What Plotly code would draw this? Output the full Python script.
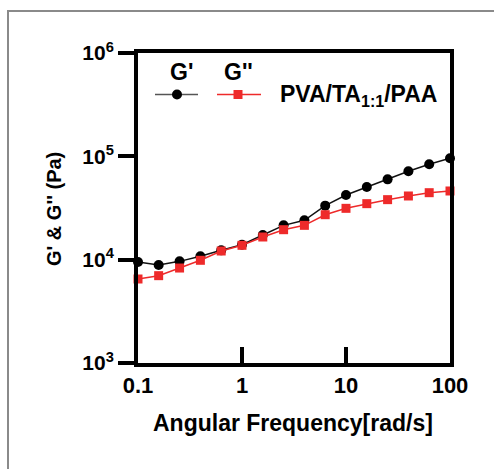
import plotly.graph_objects as go

freq = [0.1, 0.158, 0.251, 0.398, 0.631, 1.0, 1.585, 2.512, 3.981, 6.31, 10.0, 15.85, 25.12, 39.81, 63.1, 100.0]
g_storage = [9490, 8880, 9630, 10770, 12310, 13960, 17340, 21490, 24030, 33330, 42270, 50500, 59870, 71600, 83760, 95720]
g_loss = [6500, 7000, 8300, 9860, 12130, 13770, 16570, 19500, 21490, 27230, 31390, 34830, 38090, 41330, 44480, 46200]

x_ticks = [0.1, 1, 10, 100]
x_ticklabels = ["0.1", "1", "10", "100"]
y_ticks = [1e3, 1e4, 1e5, 1e6]
y_ticklabels = ["10<sup>3</sup>", "10<sup>4</sup>", "10<sup>5</sup>", "10<sup>6</sup>"]

RED = "#ee2a2a"
FONT = "Liberation Sans, Arial, sans-serif"

fig = go.Figure()
fig.add_trace(go.Scatter(x=freq, y=g_storage, mode="lines+markers", name="G'",
                         line=dict(color="#111111", width=1.5),
                         marker=dict(symbol="circle", size=10, color="black"),
                         cliponaxis=False, showlegend=False))
fig.add_trace(go.Scatter(x=freq, y=g_loss, mode="lines+markers", name="G''",
                         line=dict(color=RED, width=1.5),
                         marker=dict(symbol="square", size=9, color=RED),
                         cliponaxis=False, showlegend=False))

fig.update_xaxes(type="log", range=[-1, 2], tickvals=x_ticks, ticktext=x_ticklabels,
                 showline=True, linecolor="black", linewidth=4, mirror=True,
                 ticks="inside", ticklen=16, tickwidth=4, tickcolor="black",
                 showgrid=False, zeroline=False,
                 tickfont=dict(family=FONT, size=22, color="black", weight="bold"))
fig.update_yaxes(type="log", range=[3, 6], tickvals=y_ticks, ticktext=y_ticklabels,
                 showline=True, linecolor="black", linewidth=4, mirror=True,
                 ticks="outside", ticklen=16, tickwidth=4, tickcolor="black",
                 showgrid=False, zeroline=False,
                 tickfont=dict(family=FONT, size=21, color="black", weight="bold"))

W, H = 494, 469
L, T = 138, 53
pw, ph = 312, 310
R = W - L - pw
B = H - T - ph

def px(x):
    return (x - L) / pw

def py(y):
    return (T + ph - y) / ph

shapes = []
# outer gray frame (left and top edges only; the rest lies outside the picture)
shapes.append(dict(type="line", xref="paper", yref="paper", x0=px(8), x1=px(8), y0=py(10), y1=py(560),
                   line=dict(color="#8a8a8a", width=2), layer="below"))
shapes.append(dict(type="line", xref="paper", yref="paper", x0=px(7), x1=px(560), y0=py(11), y1=py(11),
                   line=dict(color="#8a8a8a", width=2), layer="below"))
# legend lines
shapes.append(dict(type="line", xref="paper", yref="paper", x0=px(155), x1=px(198), y0=py(94.5), y1=py(94.5),
                   line=dict(color="#555555", width=1.5)))
shapes.append(dict(type="line", xref="paper", yref="paper", x0=px(217), x1=px(261), y0=py(94.5), y1=py(94.5),
                   line=dict(color=RED, width=1.5)))
# legend markers
shapes.append(dict(type="circle", xref="paper", yref="paper", xsizemode="pixel", ysizemode="pixel",
                   xanchor=px(177), yanchor=py(94.5), x0=-5, x1=5, y0=-5, y1=5,
                   fillcolor="black", line=dict(width=0)))
shapes.append(dict(type="rect", xref="paper", yref="paper", xsizemode="pixel", ysizemode="pixel",
                   xanchor=px(238), yanchor=py(94.5), x0=-4.5, x1=4.5, y0=-4.5, y1=4.5,
                   fillcolor=RED, line=dict(width=0)))

ann_font = dict(family=FONT, size=23, color="black", weight="bold")
annotations = [
    dict(text="G'", xref="paper", yref="paper", x=px(181), y=py(72.5), showarrow=False, font=ann_font,
         xanchor="center", yanchor="middle"),
    dict(text="G''", xref="paper", yref="paper", x=px(238), y=py(72.5), showarrow=False, font=ann_font,
         xanchor="center", yanchor="middle"),
    dict(text="PVA/TA<sub>1:1</sub>/PAA", xref="paper", yref="paper", x=px(278), y=py(96), showarrow=False,
         font=ann_font, xanchor="left", yanchor="middle"),
    dict(text="Angular Frequency[rad/s]", xref="paper", yref="paper", x=px(293), y=py(423), showarrow=False,
         font=dict(family=FONT, size=23, color="black", weight="bold"), xanchor="center", yanchor="middle"),
    dict(text="G' &amp; G'' (Pa)", xref="paper", yref="paper", x=px(54), y=py(209), showarrow=False,
         textangle=-90, font=dict(family=FONT, size=20, color="black", weight="bold"),
         xanchor="center", yanchor="middle"),
]

fig.update_layout(width=W, height=H, margin=dict(l=L, r=R, t=T, b=B),
                  plot_bgcolor="white", paper_bgcolor="white",
                  shapes=shapes, annotations=annotations)

fig.write_html("out.html",
               config={"displayModeBar": False},
               post_script="document.body.style.margin='0';"
                           "document.documentElement.style.overflow='hidden';")
